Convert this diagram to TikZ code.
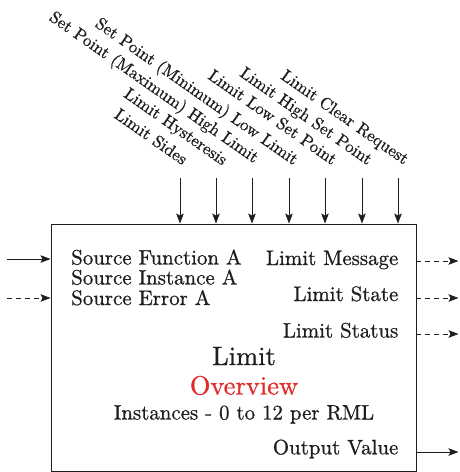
\documentclass[tikz,border=0pt]{standalone}
\usepackage{fontspec}
\setmainfont{lmroman10-regular.otf}[FakeBold=0.8]
\usetikzlibrary{arrows.meta}
\definecolor{ink}{HTML}{1E1E1E}
\definecolor{ovred}{HTML}{E32A2A}
\begin{document}
\begin{tikzpicture}[x=1pt,y=-1pt,
  boxtext/.style={inner sep=0pt,text=ink,font=\bfseries\fontsize{20.9}{20}\selectfont},
  bigtext/.style={inner sep=0pt,font=\bfseries\fontsize{26.5}{28}\selectfont},
  toplabel/.style={inner sep=0pt,text=ink,rotate=-35,anchor=base east,font=\bfseries\fontsize{17}{18}\selectfont},
  arr/.style={draw=ink,line width=0.9pt,-{Stealth[length=10pt,width=7.5pt,inset=2pt]}},
  darr/.style={arr,dash pattern=on 5pt off 4pt}]
\useasboundingbox (0,0) rectangle (459,472);
\node[draw=ink,line width=0.9pt,minimum width=365pt,minimum height=247pt,inner sep=0pt] (box) at (233.5,347.5) {};
% top labels
\node[toplabel] (l1) at (182.5,165.5) {Limit Sides};
\node[toplabel] (l2) at (222.5,166) {Limit Hysteresis};
\node[toplabel] (l3) at (254,163.5) {Set Point (Maximum) High Limit};
\node[toplabel] (l4) at (293.5,165.5) {Set Point (Minimum) Low Limit};
\node[toplabel] (l5) at (332,165.5) {Limit Low Set Point};
\node[toplabel] (l6) at (367.5,165.5) {Limit High Set Point};
\node[toplabel] (l7) at (404,165) {Limit Clear Request};
% top arrows
\foreach \i/\x in {1/180,2/216,3/252,4/289,5/325,6/362,7/398}{
  \coordinate (t\i) at (\x,178);
  \draw[arr] (t\i) -- (t\i |- box.north);
}
% left inputs
\coordinate (in1) at (7,259);
\coordinate (in2) at (7,298);
\draw[arr] (in1) -- (in1 -| box.west);
\draw[darr] (in2) -- (in2 -| box.west);
% right outputs
\coordinate (o1) at (458.5,261);
\coordinate (o2) at (458.5,298);
\coordinate (o3) at (458.5,334);
\coordinate (o4) at (458.5,452);
\draw[darr] (box.east |- o1) -- (o1);
\draw[darr] (box.east |- o2) -- (o2);
\draw[darr] (box.east |- o3) -- (o3);
\draw[arr] (box.east |- o4) -- (o4);
% box texts
\node[boxtext,anchor=base west] (sf) at (71,264.5) {Source Function A};
\node[boxtext,anchor=base west] (si) at (71,284.5) {Source Instance A};
\node[boxtext,anchor=base west] (se) at (71,305) {Source Error A};
\node[boxtext,anchor=base east] (lm) at (398.5,265) {Limit Message};
\node[boxtext,anchor=base east] (ls) at (398.5,301) {Limit State};
\node[boxtext,anchor=base east] (lt) at (398.5,337.5) {Limit Status};
\node[boxtext,anchor=base east] (ov) at (398.5,454.3) {Output Value};
\node[bigtext,text=ink,anchor=base] (lim) at (244,365) {Limit};
\node[bigtext,text=ovred,anchor=base] (over) at (244,394.5) {Overview};
\node[boxtext,anchor=base] (inst) at (244,419.5) {Instances - 0 to 12 per RML};
\end{tikzpicture}
\end{document}
